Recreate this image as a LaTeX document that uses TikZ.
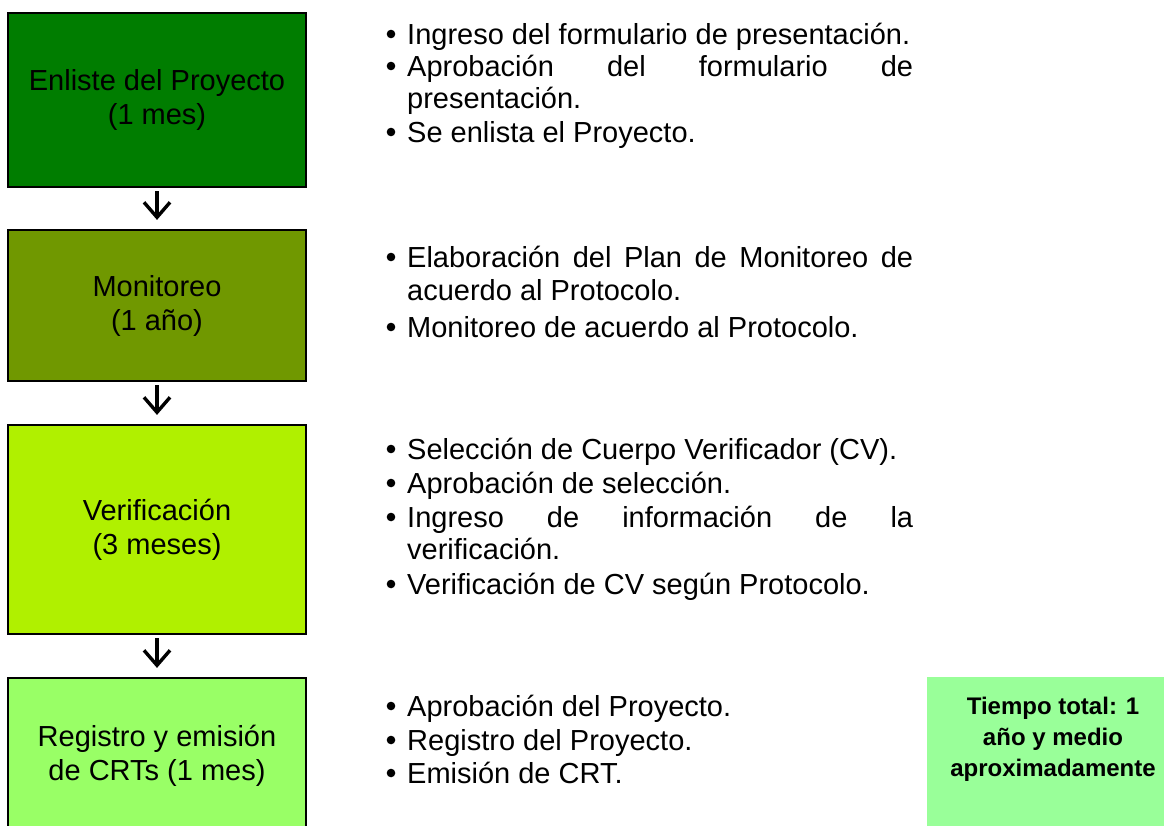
\documentclass[tikz,border=0pt]{standalone}
\usepackage{fontspec}
\setmainfont{Liberation Sans}
\usetikzlibrary{arrows.meta}
\definecolor{c1}{RGB}{0,125,0}
\definecolor{c2}{RGB}{112,152,0}
\definecolor{c3}{RGB}{176,240,0}
\definecolor{c4}{RGB}{153,255,102}
\definecolor{c5}{RGB}{153,255,153}
\begin{document}
\begin{tikzpicture}[x=1pt,y=-1pt,
 stage/.style={draw=black,line width=2.2pt,minimum width=298pt,align=center,inner sep=0pt,font=\fontsize{29}{34}\selectfont},
 ln/.style={anchor=base west,inner sep=0pt,font=\fontsize{29}{34}\selectfont},
 flow/.style={line width=3.4pt,-{Straight Barb[length=15pt,width=26pt,line width=3.4pt]},shorten <=3pt,shorten >=9pt},
 dot/.style={fill=black}
 ]
\useasboundingbox (0,0) rectangle (1164,825);
\clip (0,0) rectangle (1164,825);
% stage boxes
\node[stage,fill=c1,minimum height=174pt] (s1) at (157,100) {Enliste del Proyecto\\(1 mes)};
\node[stage,fill=c2,minimum height=151pt] (s2) at (157,305.5) {Monitoreo\\(1 año)};
\node[stage,fill=c3,minimum height=209pt] (s3) at (157,529.5) {Verificación\\(3 meses)};
\node[stage,fill=c4,minimum height=155pt] (s4) at (157,755.5) {Registro y emisión\\de CRTs (1 mes)};
% arrows
\draw[flow] (s1) -- (s2);
\draw[flow] (s2) -- (s3);
\draw[flow] (s3) -- (s4);
% list 1
\node[ln] (a1) at (407,44) {Ingreso del formulario de presentación.};
\node[ln] (a2) at (407,76) {\makebox[506pt][s]{Aprobación del formulario de}};
\node[ln] (a3) at (407,108) {presentación.};
\node[ln] (a4) at (407,142) {Se enlista el Proyecto.};
% list 2
\node[ln] (b1) at (407,267) {\makebox[506pt][s]{Elaboración del Plan de Monitoreo de}};
\node[ln] (b2) at (407,300) {acuerdo al Protocolo.};
\node[ln] (b3) at (407,337) {Monitoreo de acuerdo al Protocolo.};
% list 3
\node[ln] (c1n) at (407,459) {Selección de Cuerpo Verificador (CV).};
\node[ln] (c2n) at (407,493) {Aprobación de selección.};
\node[ln] (c3n) at (407,527) {\makebox[506pt][s]{Ingreso de información de la}};
\node[ln] (c4n) at (407,559) {verificación.};
\node[ln] (c5n) at (407,594) {Verificación de CV según Protocolo.};
% list 4
\node[ln] (d1) at (407,716) {Aprobación del Proyecto.};
\node[ln] (d2) at (407,750) {Registro del Proyecto.};
\node[ln] (d3) at (407,783) {Emisión de CRT.};
% bullets
\foreach \y in {44,76,142,267,337,459,493,527,594,716,750,783}
  \fill[dot] (391,\y-10) circle (4.3pt);
% total time
\node[fill=c5,minimum width=240pt,minimum height=170pt,anchor=north west,inner sep=0pt] (tbox) at (927,677) {};
\node[anchor=north,inner sep=0pt,align=center,font=\fontsize{24}{31}\selectfont\bfseries] (ttxt) at (1053,696.5) {Tiempo total: 1\\año y medio\\aproximadamente};
\end{tikzpicture}
\end{document}
